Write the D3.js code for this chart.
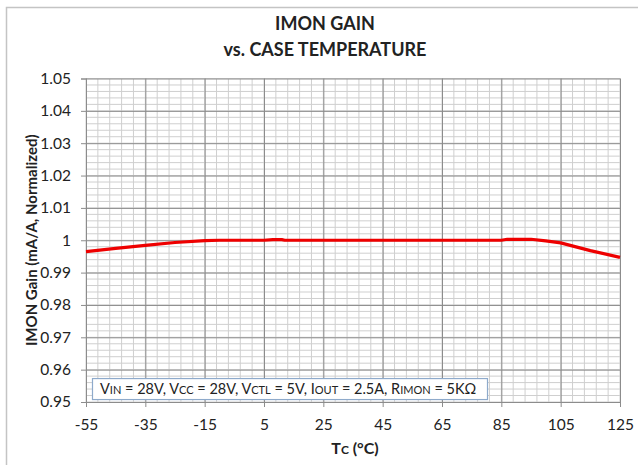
<!DOCTYPE html>
<html>
<head>
<meta charset="utf-8">
<script src="https://cdn.jsdelivr.net/npm/d3@7"></script>
<style>
  body { margin: 0; background: #fff; }
  text { font-family: Lato, "Open Sans", sans-serif; fill: #222; }
</style>
</head>
<body>
<div id="chart"></div>
<script>
// case temperature (°C) and normalized gain
const temps = [-55, -45, -35, -25, -15, -10, 5, 8, 11, 12, 25, 45, 65, 85, 87, 95, 100, 105, 115, 125];
const gain  = [0.9965, 0.9975, 0.9984, 0.9993, 0.9999, 1.0, 1.0, 1.0002, 1.0002, 1.0, 1.0, 1.0, 1.0, 1.0, 1.0003, 1.0003, 0.9998, 0.9992, 0.9968, 0.9947];

const xTicks = [-55, -35, -15, 5, 25, 45, 65, 85, 105, 125];
const yTicks = [0.95, 0.96, 0.97, 0.98, 0.99, 1, 1.01, 1.02, 1.03, 1.04, 1.05];

const W = 638, H = 465;
const margin = {top: 78.5, right: 18, bottom: 63, left: 86};
const width = W - margin.left - margin.right;
const height = H - margin.top - margin.bottom;

const svg = d3.select('#chart').append('svg')
  .attr('width', W)
  .attr('height', H);

// outer chart frame
svg.append('rect')
  .attr('x', 6.5).attr('y', 7.5)
  .attr('width', W + 10).attr('height', H + 10)
  .attr('fill', 'none')
  .attr('stroke', '#c4c4c4')
  .attr('stroke-width', 1.5);

const x = d3.scaleLinear().domain([-55, 125]).range([0, width]);
const y = d3.scaleLinear().domain([0.95, 1.05]).range([height, 0]);

const g = svg.append('g')
  .attr('transform', 'translate(' + margin.left + ',' + margin.top + ')');

// minor grid
const xMinor = d3.range(-55, 125.1, 4);
const yMinor = d3.range(0, 51).map(i => 0.95 + i * 0.002);

g.append('g').attr('class', 'grid-minor')
  .selectAll('line.v').data(xMinor).enter().append('line')
    .attr('x1', d => x(d)).attr('x2', d => x(d))
    .attr('y1', 0).attr('y2', height)
    .attr('stroke', '#cfcfcf').attr('stroke-width', 1);
g.select('.grid-minor')
  .selectAll('line.h').data(yMinor).enter().append('line')
    .attr('x1', 0).attr('x2', width)
    .attr('y1', d => y(d)).attr('y2', d => y(d))
    .attr('stroke', '#cfcfcf').attr('stroke-width', 1);

// major grid
const xGrid = d3.axisBottom(x).tickValues(xTicks).tickSize(-height).tickFormat('');
const yGrid = d3.axisLeft(y).tickValues(yTicks).tickSize(-width).tickFormat('');

g.append('g').attr('class', 'grid')
  .attr('transform', 'translate(0,' + height + ')')
  .call(xGrid)
  .call(s => s.select('.domain').remove())
  .selectAll('line').attr('stroke', '#8c8c8c');

g.append('g').attr('class', 'grid')
  .call(yGrid)
  .call(s => s.select('.domain').remove())
  .selectAll('line').attr('stroke', '#8c8c8c');

// axes (plain hyphen for negatives, like the original)
const xAxis = d3.axisBottom(x).tickValues(xTicks).tickSize(5).tickPadding(12).tickFormat(d => String(d));
const yAxis = d3.axisLeft(y).tickValues(yTicks).tickSize(5).tickPadding(10).tickFormat(d => String(+d.toFixed(2)));

const xa = g.append('g')
  .attr('transform', 'translate(0,' + height + ')')
  .call(xAxis);
xa.select('.domain').attr('stroke', '#8c8c8c');
xa.selectAll('line').attr('stroke', '#8c8c8c');
xa.selectAll('text').style('font-size', '15.5px').attr('fill', '#222');

const ya = g.append('g').call(yAxis);
ya.select('.domain').attr('stroke', '#8c8c8c');
ya.selectAll('line').attr('stroke', '#8c8c8c');
ya.selectAll('text').style('font-size', '15.5px').attr('fill', '#222');

// data line
const line = d3.line()
  .x((d, i) => x(temps[i]))
  .y(d => y(d));

g.append('path')
  .datum(gain)
  .attr('fill', 'none')
  .attr('stroke', '#ee0000')
  .attr('stroke-width', 3.2)
  .attr('stroke-linejoin', 'round')
  .attr('d', line);

// conditions box
const box = g.append('g').attr('transform', 'translate(6,' + (y(0.9574) ) + ')');
box.append('rect')
  .attr('x', 0.5).attr('y', 0.5)
  .attr('width', 395).attr('height', 21)
  .attr('fill', '#fff')
  .attr('stroke', '#8eaacb')
  .attr('stroke-width', 1.2);

const cond = box.append('text')
  .attr('x', 8).attr('y', 16)
  .style('font-size', '14.5px');
const parts = [
  ['V', 'IN', ' = 28V, '], ['V', 'CC', ' = 28V, '], ['V', 'CTL', ' = 5V, '],
  ['I', 'OUT', ' = 2.5A, '], ['R', 'IMON', ' = 5K\u03a9']
];
parts.forEach(p => {
  cond.append('tspan').text(p[0]);
  cond.append('tspan').style('font-size', '11px').text(p[1]);
  cond.append('tspan').text(p[2]);
});

// titles
svg.append('text')
  .attr('x', 325).attr('y', 30)
  .attr('text-anchor', 'middle')
  .style('font-size', '18px').style('font-weight', 'bold')
  .text('IMON GAIN');
svg.append('text')
  .attr('x', 325).attr('y', 56)
  .attr('text-anchor', 'middle')
  .style('font-size', '18px').style('font-weight', 'bold')
  .text('vs. CASE TEMPERATURE');

const xt = svg.append('text')
  .attr('x', 355).attr('y', 454)
  .attr('text-anchor', 'middle')
  .style('font-size', '16px').style('font-weight', 'bold');
xt.append('tspan').text('T');
xt.append('tspan').style('font-size', '12px').text('C');
xt.append('tspan').text(' (\u00b0C)');

svg.append('text')
  .attr('transform', 'translate(37,' + (margin.top + height / 2) + ') rotate(-90)')
  .attr('text-anchor', 'middle')
  .style('font-size', '15px').style('font-weight', 'bold')
  .text('IMON Gain (mA/A, Normalized)');
</script>
</body>
</html>
